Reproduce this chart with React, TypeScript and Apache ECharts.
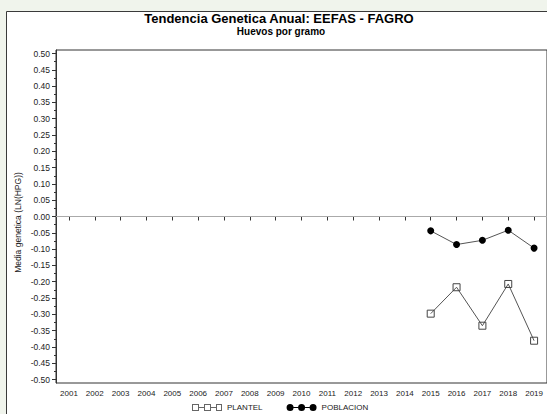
import React, { useEffect, useRef } from "react";
import * as echarts from "echarts";

const years = ["2001","2002","2003","2004","2005","2006","2007","2008","2009","2010","2011","2012","2013","2014","2015","2016","2017","2018","2019"];
const dataYears = ["2015", "2016", "2017", "2018", "2019"];
const plantel = [-0.298, -0.217, -0.335, -0.207, -0.381];
const poblacion = [-0.044, -0.086, -0.073, -0.042, -0.097];
const titleText = "Tendencia Genetica Anual: EEFAS - FAGRO";
const subtitleText = "Huevos por gramo";
const yName = "Media genetica (LN(HPG))";

const FONT = "'Liberation Sans', Arial, sans-serif";

const plantelIcon =
  "path://M0,0h7v7h-7zM1,1v5h5v-5zM7,3h5v1h-5zM12,0h7v7h-7zM13,1v5h5v-5zM19,3h5v1h-5zM24,0h6v7h-6zM25,1v5h4v-5z";
const poblacionIcon =
  "path://M0,3.5a3.5,3.5 0 1,0 7,0a3.5,3.5 0 1,0 -7,0zM7,3h4.5v1h-4.5zM11.5,3.5a3.5,3.5 0 1,0 7,0a3.5,3.5 0 1,0 -7,0zM18.5,3h4.5v1h-4.5zM23,3.5a3.5,3.5 0 1,0 7,0a3.5,3.5 0 1,0 -7,0z";

export default function App() {
  const ref = useRef<HTMLDivElement>(null);
  useEffect(() => {
    if (!ref.current) return;
    const chart = echarts.init(ref.current, undefined, { renderer: "svg" });
    const option: any = {
      animation: false,
      backgroundColor: "#f0f4ec",
      textStyle: { fontFamily: FONT },
      graphic: {
        elements: [
          {
            type: "rect",
            z: -100,
            shape: { x: 6.5, y: 11.5, width: 700, height: 600 },
            style: { fill: "#ffffff", stroke: "#3a3a3a", lineWidth: 1 },
          },
        ],
      },
      title: [
        {
          text: titleText,
          left: 279,
          textAlign: "center",
          top: 12,
          padding: 0,
          textStyle: { fontSize: 13, fontWeight: "bold", color: "#000", fontFamily: FONT },
        },
        {
          text: subtitleText,
          left: 281,
          textAlign: "center",
          top: 26.5,
          padding: 0,
          textStyle: { fontSize: 10, fontWeight: "bold", color: "#000", fontFamily: FONT },
        },
      ],
      legend: {
        left: 192,
        top: 403.5,
        padding: 0,
        itemWidth: 30,
        itemHeight: 7,
        itemGap: 24,
        symbolKeepAspect: true,
        textStyle: { fontSize: 8, color: "#222", fontFamily: FONT },
        data: [
          { name: "PLANTEL", icon: plantelIcon, itemStyle: { color: "#666", borderWidth: 0 } },
          { name: "POBLACION", icon: poblacionIcon, itemStyle: { color: "#000", borderWidth: 0 } },
        ],
      },
      grid: [
        {
          left: 56,
          top: 50,
          width: 494,
          height: 333,
          show: true,
          borderColor: "#333",
          borderWidth: 1,
          backgroundColor: "transparent",
        },
        { left: 56, top: 53.5, width: 494, height: 326 },
      ],
      xAxis: [
        {
          type: "category",
          gridIndex: 0,
          data: years,
          boundaryGap: true,
          axisLine: { show: true, lineStyle: { color: "#333", width: 1 } },
          axisTick: { show: true, alignWithLabel: true, length: 4, lineStyle: { color: "#333" } },
          axisLabel: { fontSize: 8, color: "#222", margin: 6, interval: 0, fontFamily: FONT },
          splitLine: { show: false },
        },
        {
          type: "category",
          gridIndex: 1,
          data: years,
          boundaryGap: true,
          show: false,
        },
      ],
      yAxis: [
        {
          type: "value",
          gridIndex: 0,
          min: -1,
          max: 1,
          axisLine: { show: true, lineStyle: { color: "#333", width: 1 } },
          axisTick: { show: false },
          axisLabel: { show: false },
          splitLine: { show: false },
        },
        {
          type: "value",
          gridIndex: 1,
          min: -0.5,
          max: 0.5,
          interval: 0.05,
          name: yName,
          nameLocation: "middle",
          nameRotate: 90,
          nameGap: 34,
          nameMoveOverlap: false,
          nameTextStyle: { fontSize: 8.5, color: "#222", padding: [0, 12, 0, 0], fontFamily: FONT },
          axisLine: { show: false },
          axisTick: { show: true, length: 4, lineStyle: { color: "#333" } },
          minorTick: { show: true, splitNumber: 2, length: 2, lineStyle: { color: "#333" } },
          axisLabel: {
            fontSize: 8.5,
            color: "#222",
            margin: 6,
            fontFamily: FONT,
            formatter: (v: number) => v.toFixed(2),
          },
          splitLine: { show: false },
        },
      ],
      series: [
        {
          name: "PLANTEL",
          type: "line",
          xAxisIndex: 1,
          yAxisIndex: 1,
          data: dataYears.map((y, i) => [y, plantel[i]]),
          symbol: "rect",
          symbolSize: 7,
          showAllSymbol: true,
          itemStyle: { color: "rgba(255,255,255,0)", borderColor: "#444", borderWidth: 1 },
          lineStyle: { color: "#555", width: 1 },
          z: 3,
        },
        {
          name: "POBLACION",
          type: "line",
          xAxisIndex: 1,
          yAxisIndex: 1,
          data: dataYears.map((y, i) => [y, poblacion[i]]),
          symbol: "circle",
          symbolSize: 7,
          showAllSymbol: true,
          itemStyle: { color: "#000", borderWidth: 0 },
          lineStyle: { color: "#555", width: 1 },
          z: 3,
          markLine: {
            silent: true,
            symbol: "none",
            label: { show: false },
            lineStyle: { color: "#aaa", type: "solid", width: 1 },
            data: [{ yAxis: 0 }],
          },
        },
      ],
    };
    chart.setOption(option);
    return () => chart.dispose();
  }, []);
  return (
    <div
      ref={ref}
      style={{ position: "fixed", left: 0, top: 0, width: 547, height: 414 }}
    />
  );
}
